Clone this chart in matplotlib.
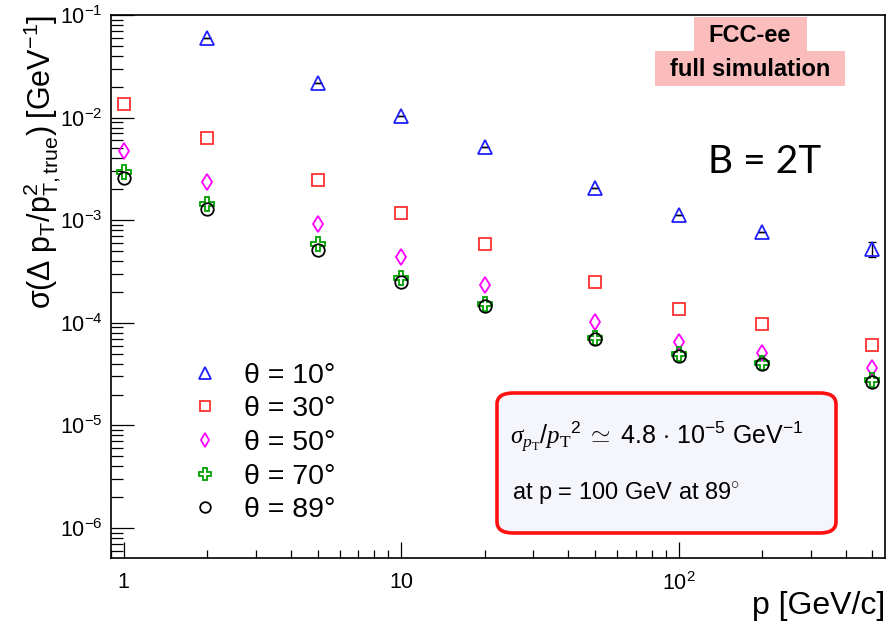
import numpy as np
import matplotlib
matplotlib.use("Agg")
import matplotlib.pyplot as plt
from matplotlib.patches import Rectangle, FancyBboxPatch
from matplotlib.ticker import LogLocator, FixedLocator, FixedFormatter, NullFormatter

plt.rcParams['font.family'] = ['Liberation Sans', 'DejaVu Sans']
plt.rcParams['mathtext.fontset'] = 'custom'
plt.rcParams['mathtext.rm'] = 'Liberation Sans'
plt.rcParams['mathtext.sf'] = 'Liberation Sans'
plt.rcParams['mathtext.it'] = 'Liberation Serif:italic'
plt.rcParams['mathtext.tt'] = 'Liberation Serif'
plt.rcParams['mathtext.default'] = 'rm'

# momentum points [GeV/c]
p = [1, 2, 5, 10, 20, 50, 100, 200, 500]
p_10 = [2, 5, 10, 20, 50, 100, 200, 500]

# sigma(dpT/pT^2) [GeV^-1], one list per polar angle
sig_10 = [5.97e-2, 2.17e-2, 1.04e-2, 5.16e-3, 2.06e-3, 1.12e-3, 7.67e-4, 5.24e-4]
err_10 = [0, 0, 0, 0, 0, 0, 0, 8.5e-5]
sig_30 = [1.36e-2, 6.33e-3, 2.47e-3, 1.17e-3, 5.86e-4, 2.50e-4, 1.36e-4, 9.74e-5, 6.08e-5]
sig_50 = [4.72e-3, 2.36e-3, 9.18e-4, 4.38e-4, 2.33e-4, 1.02e-4, 6.50e-5, 5.08e-5, 3.63e-5]
sig_70 = [2.95e-3, 1.44e-3, 5.86e-4, 2.74e-4, 1.53e-4, 7.11e-5, 4.97e-5, 4.06e-5, 2.77e-5]
sig_89 = [2.58e-3, 1.29e-3, 5.13e-4, 2.50e-4, 1.46e-4, 6.95e-5, 4.74e-5, 3.96e-5, 2.65e-5]

labels = [u'\u03b8 = 10\u00b0', u'\u03b8 = 30\u00b0', u'\u03b8 = 50\u00b0',
          u'\u03b8 = 70\u00b0', u'\u03b8 = 89\u00b0']

x_ticks = [1, 10, 100]
x_tick_labels = ['1', '10', r'$10^{2}$']

W, H = 895, 623
fig = plt.figure(figsize=(W / 100, H / 100), dpi=100)
ax = fig.add_axes([111 / W, 1 - 558 / H, 774 / W, 543 / H])

kw = dict(linestyle='none', mfc='none', mew=1.3)
ax.errorbar(p_10, sig_10, yerr=err_10, fmt='none', ecolor='black', elinewidth=1, capsize=3)
ax.plot(p_10, sig_10, marker='^', ms=10.5, color='#2020ff', label=labels[0], **kw)
ax.plot(p, sig_30, marker='s', ms=9, color='#ff3030', label=labels[1], **kw)
ax.plot(p, sig_50, marker='d', ms=8, color='#ff00ff', label=labels[2], **kw)
ax.plot(p, sig_70, marker='P', ms=10, color='#00a000', label=labels[3], **kw)
ax.plot(p, sig_89, marker='o', ms=9, color='black', label=labels[4], **kw)

ax.set_xscale('log')
ax.set_yscale('log')
ax.set_xlim(0.9, 555)
ax.set_ylim(5.1e-7, 0.1)

ax.xaxis.set_major_locator(FixedLocator(x_ticks))
ax.xaxis.set_major_formatter(FixedFormatter(x_tick_labels))
ax.xaxis.set_minor_locator(LogLocator(base=10, subs=np.arange(2, 10)))
ax.xaxis.set_minor_formatter(NullFormatter())
ax.yaxis.set_major_locator(LogLocator(base=10, numticks=20))
ax.yaxis.set_minor_locator(LogLocator(base=10, subs=np.arange(2, 10), numticks=20))
ax.yaxis.set_minor_formatter(NullFormatter())

ax.tick_params(axis='both', which='both', direction='in', top=False, right=False,
               width=0.9, labelsize=15.5)
ax.tick_params(axis='y', which='major', length=16.5, pad=6)
ax.tick_params(axis='y', which='minor', length=8.5)
ax.tick_params(axis='x', which='major', length=11.5, pad=10)
ax.tick_params(axis='x', which='minor', length=6)
for s in ax.spines.values():
    s.set_linewidth(1.2)

ax.set_ylabel(r'$\sigma(\Delta\ p_{T}/p^{2}_{T,true})\ [GeV^{-1}]$', fontsize=22, loc='top')
ax.yaxis.set_label_coords(-0.062, 1.0)
ax.set_xlabel('p [GeV/c]', fontsize=23, loc='right')
ax.xaxis.set_label_coords(1.0, -0.06)

leg = ax.legend(loc='upper left', bbox_to_anchor=(0.094, 0.36), frameon=False,
                fontsize=20.5, borderpad=0, handlelength=1.5, handletextpad=0.6,
                labelspacing=0.27, borderaxespad=0)
for h in leg.legend_handles:
    h.set_markersize(h.get_markersize() * 0.85)

# FCC-ee label boxes
pink = '#fbbcbc'
fig.patches.append(Rectangle((694 / W, 1 - 51 / H), 113 / W, 34 / H, transform=fig.transFigure,
                             facecolor=pink, edgecolor='none'))
fig.patches.append(Rectangle((655 / W, 1 - 86 / H), 190 / W, 35 / H, transform=fig.transFigure,
                             facecolor=pink, edgecolor='none'))
fig.text(750 / W, 1 - 35 / H, 'FCC-ee', fontsize=17, fontweight='bold', ha='center', va='center')
fig.text(750 / W, 1 - 69 / H, 'full simulation', fontsize=17, fontweight='bold', ha='center', va='center')

fig.text(765 / W, 1 - 162 / H, 'B = 2T', fontsize=28, family='Lato', ha='center', va='center')

# resolution summary box
box = FancyBboxPatch((497 / W, 1 - 533 / H), 339 / W, 140 / H, transform=fig.transFigure,
                     boxstyle='round,pad=0,rounding_size=0.018', facecolor='#f5f5fc',
                     edgecolor='#ff1010', linewidth=2.6)
fig.patches.append(box)
fig.text(510 / W, 1 - 437 / H,
         r'$\mathit{\sigma}_{\mathit{p}_{\mathtt{T}}}/\mathit{p}_{\mathtt{T}}{}^{2}\ \simeq$ 4.8 $\cdot$ 10$^{-5}$ GeV$^{-1}$',
         fontsize=18, ha='left', va='center')
fig.text(512 / W, 1 - 493 / H, r'at p = 100 GeV at 89$^{\circ}$', fontsize=17, ha='left', va='center')

fig.savefig('out.png', dpi=100)
